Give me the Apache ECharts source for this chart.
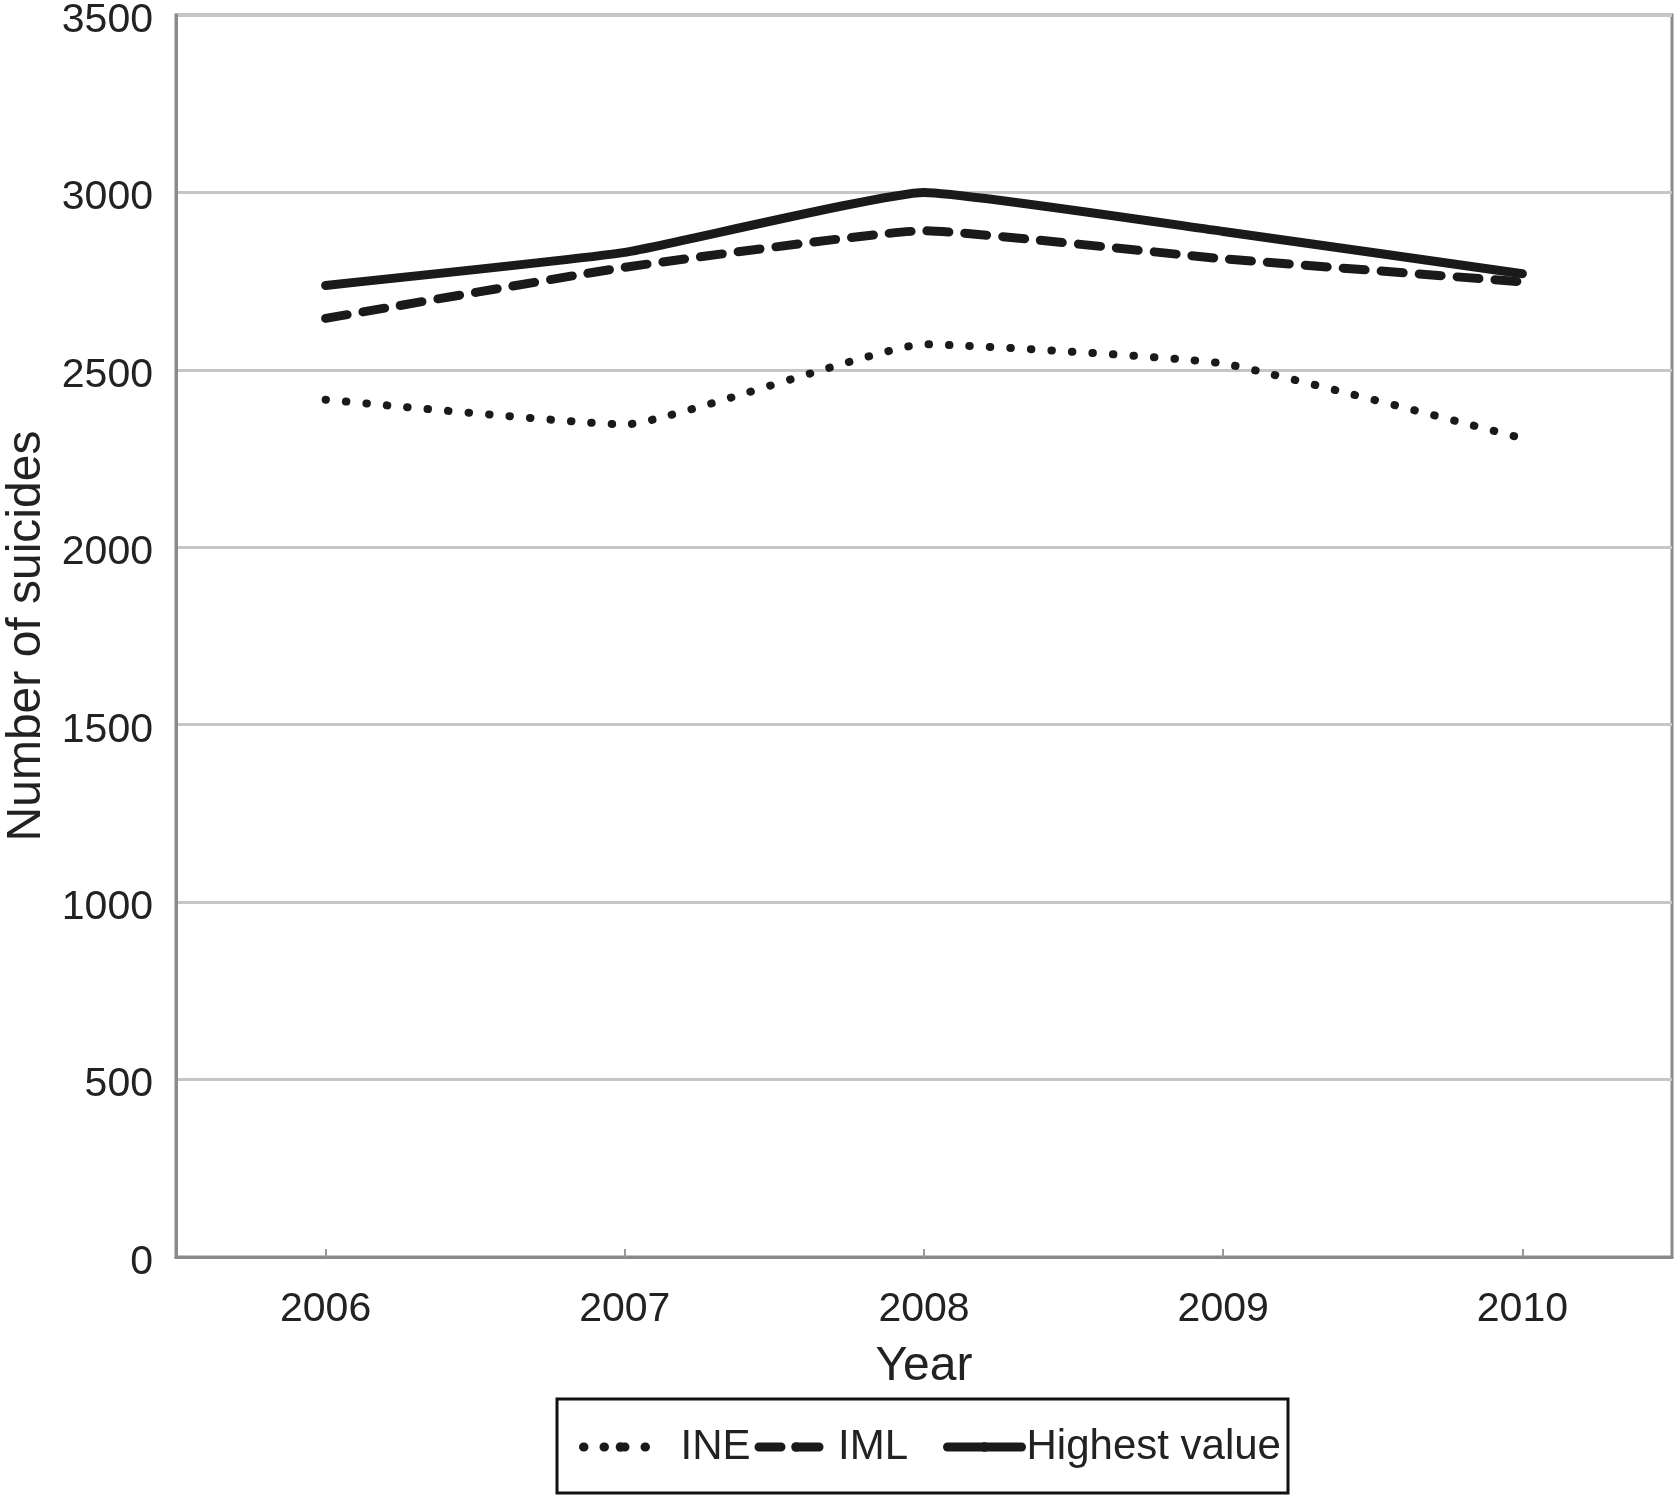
<!DOCTYPE html>
<html>
<head>
<meta charset="utf-8">
<script src="https://cdn.jsdelivr.net/npm/echarts@6/dist/echarts.min.js"></script>
<style>
html,body{margin:0;padding:0;background:#fff;}
#chart{width:1675px;height:1497px;}
</style>
</head>
<body>
<div id="chart"></div>
<script>
const years = ['2006', '2007', '2008', '2009', '2010'];
const ine = [2416, 2346, 2572, 2518, 2307];
const iml = [2645, 2789, 2892, 2813, 2748];
const highest = [2738, 2831, 3000, 2890, 2771];
const seriesNames = ['INE', 'IML', 'Highest value'];

const FONT = '"Liberation Sans", Arial, sans-serif';
const INK = '#1a1a1a';
const dotStyle = {color: INK, width: 8, type: [0.5, 20], cap: 'round'};
const dashStyle = {color: INK, width: 9, type: [22, 16], cap: 'round'};
const solidStyle = {color: INK, width: 9, type: 'solid', cap: 'round'};

const legendCommon = {
  show: true,
  orient: 'horizontal',
  borderWidth: 0,
  itemWidth: 74,
  itemHeight: 12,
  itemGap: 4,
  textStyle: {fontFamily: FONT, fontSize: 42, color: '#222'},
  lineStyle: {width: 9}
};

const chart = echarts.init(document.getElementById('chart'), null, {renderer: 'canvas'});
chart.setOption({
  backgroundColor: '#fff',
  animation: false,
  grid: {
    left: 176, top: 15, right: 3, bottom: 240,
    outerBoundsMode: 'none',
    containLabel: false,
    show: true, borderColor: '#8a8a8a', borderWidth: 3, backgroundColor: 'transparent'
  },
  xAxis: {
    type: 'category',
    data: years,
    boundaryGap: true,
    name: 'Year',
    nameLocation: 'middle',
    nameGap: 86,
    nameTextStyle: {fontFamily: FONT, fontSize: 48, color: '#222'},
    axisLine: {show: true, lineStyle: {color: '#8a8a8a', width: 3}},
    axisTick: {show: true, inside: true, alignWithLabel: true, length: 8, lineStyle: {color: '#9a9a9a', width: 2}},
    axisLabel: {fontFamily: FONT, fontSize: 41, color: '#222', margin: 32},
    splitLine: {show: false}
  },
  yAxis: {
    type: 'value',
    min: 0, max: 3500, interval: 500,
    name: 'Number of suicides',
    nameLocation: 'middle',
    nameGap: 114,
    nameTextStyle: {fontFamily: FONT, fontSize: 48, color: '#222'},
    axisLine: {show: true, lineStyle: {color: '#8a8a8a', width: 3}},
    axisTick: {show: false},
    axisLabel: {
      fontFamily: FONT, fontSize: 41, color: '#222', margin: 23,
      formatter: function (v) { return '{a|' + String(v) + '}'; },
      rich: {a: {fontFamily: FONT, fontSize: 41, color: '#222', padding: [11, 0, 0, 0]}}
    },
    splitLine: {show: true, lineStyle: {color: '#c6c6c6', width: 3}}
  },
  legend: [
    Object.assign({}, legendCommon, {
      left: 557, top: 1399,
      padding: [27, 0, 27, 22],
      data: [
        {name: seriesNames[0], textStyle: {padding: [0, 0, 0, 18]}},
        {name: seriesNames[1]}
      ]
    }),
    Object.assign({}, legendCommon, {
      left: 943, top: 1399,
      padding: [27, 0, 27, 0],
      data: [{name: seriesNames[2]}]
    })
  ],
  graphic: [{
    type: 'rect',
    silent: true,
    shape: {x: 557, y: 1399, width: 731, height: 94},
    style: {fill: 'none', stroke: '#111', lineWidth: 3}
  }],
  series: [
    {name: seriesNames[0], type: 'line', data: ine, smooth: 0.12, symbol: 'none', lineStyle: dotStyle, itemStyle: {color: INK}},
    {name: seriesNames[1], type: 'line', data: iml, smooth: 0.12, symbol: 'none', lineStyle: dashStyle, itemStyle: {color: INK}},
    {name: seriesNames[2], type: 'line', data: highest, smooth: 0.12, symbol: 'none', lineStyle: solidStyle, itemStyle: {color: INK}}
  ]
});
</script>
</body>
</html>
